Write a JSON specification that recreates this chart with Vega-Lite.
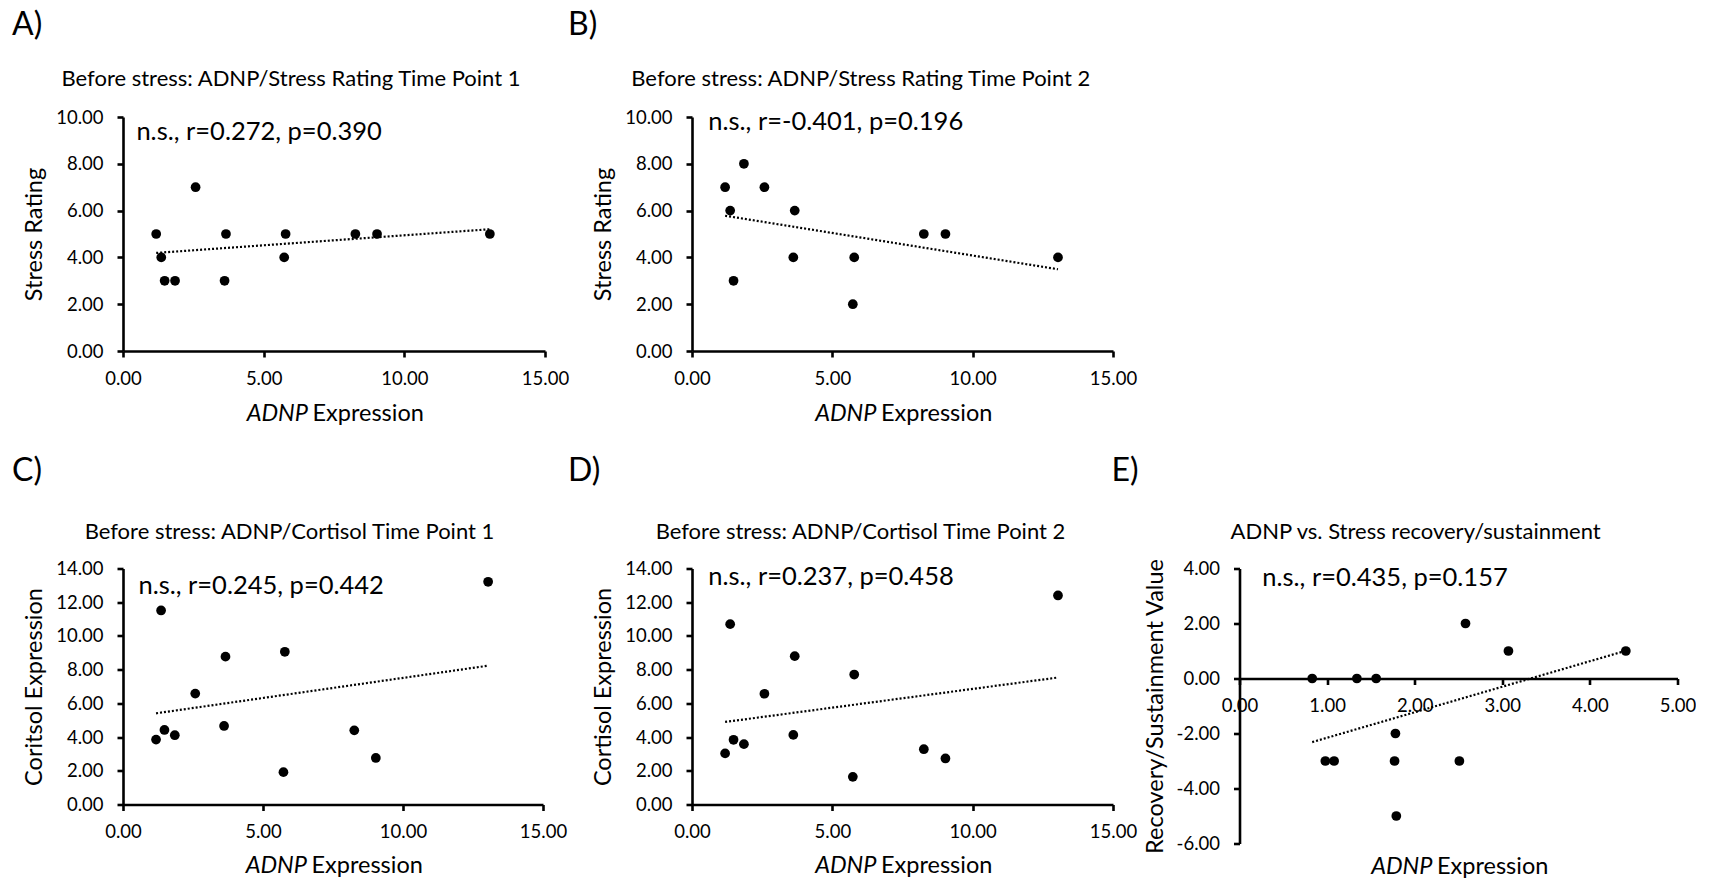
{
  "$schema": "https://vega.github.io/schema/vega-lite/v6.json",
  "background": "white",
  "padding": {"left": 12, "top": 8, "right": 0, "bottom": 0},
  "config": {
    "font": "Lato",
    "locale": {"number": {"decimal": ".", "thousands": ",", "grouping": [3], "currency": ["$", ""], "minus": "-"}},
    "view": {"stroke": null},
    "axis": {"grid": false, "domainColor": "#000", "domainWidth": 2.6, "tickColor": "#000", "tickWidth": 2.6, "tickSize": 6, "labelFontSize": 18.5, "labelColor": "#000", "titleFontSize": 23.5, "titleFontWeight": "normal", "titleColor": "#000", "labelFlush": false, "labelOverlap": false},
    "axisX": {"labelPadding": 12},
    "axisY": {"labelPadding": 14, "titlePadding": 9},
    "title": {"fontSize": 32, "fontWeight": "normal", "color": "#000", "anchor": "start", "frame": "group", "baseline": "alphabetic"}
  },
  "datasets": {
    "stress1": [
      {"adnp": 1.18, "value": 5}, {"adnp": 1.36, "value": 4}, {"adnp": 1.48, "value": 3}, {"adnp": 1.85, "value": 3},
      {"adnp": 2.58, "value": 7}, {"adnp": 3.61, "value": 3}, {"adnp": 3.66, "value": 5}, {"adnp": 5.73, "value": 4},
      {"adnp": 5.78, "value": 5}, {"adnp": 8.26, "value": 5}, {"adnp": 9.03, "value": 5}, {"adnp": 13.04, "value": 5}
    ],
    "stress2": [
      {"adnp": 1.18, "value": 7}, {"adnp": 1.36, "value": 6}, {"adnp": 1.48, "value": 3}, {"adnp": 1.85, "value": 8},
      {"adnp": 2.58, "value": 7}, {"adnp": 3.61, "value": 4}, {"adnp": 3.66, "value": 6}, {"adnp": 5.73, "value": 2},
      {"adnp": 5.78, "value": 4}, {"adnp": 8.26, "value": 5}, {"adnp": 9.03, "value": 5}, {"adnp": 13.04, "value": 4}
    ],
    "cort1": [
      {"adnp": 1.18, "value": 3.85}, {"adnp": 1.36, "value": 11.51}, {"adnp": 1.48, "value": 4.42}, {"adnp": 1.85, "value": 4.11},
      {"adnp": 2.58, "value": 6.58}, {"adnp": 3.61, "value": 4.66}, {"adnp": 3.66, "value": 8.77}, {"adnp": 5.73, "value": 1.92},
      {"adnp": 5.78, "value": 9.06}, {"adnp": 8.26, "value": 4.40}, {"adnp": 9.03, "value": 2.76}, {"adnp": 13.04, "value": 13.21}
    ],
    "cort2": [
      {"adnp": 1.18, "value": 3.03}, {"adnp": 1.36, "value": 10.70}, {"adnp": 1.48, "value": 3.84}, {"adnp": 1.85, "value": 3.58},
      {"adnp": 2.58, "value": 6.57}, {"adnp": 3.61, "value": 4.13}, {"adnp": 3.66, "value": 8.80}, {"adnp": 5.73, "value": 1.64},
      {"adnp": 5.78, "value": 7.71}, {"adnp": 8.26, "value": 3.28}, {"adnp": 9.03, "value": 2.73}, {"adnp": 13.04, "value": 12.40}
    ],
    "recov": [
      {"adnp": 0.83, "value": 0}, {"adnp": 0.98, "value": -3}, {"adnp": 1.08, "value": -3}, {"adnp": 1.34, "value": 0},
      {"adnp": 1.56, "value": 0}, {"adnp": 1.78, "value": -2}, {"adnp": 1.77, "value": -3}, {"adnp": 1.79, "value": -5},
      {"adnp": 2.51, "value": -3}, {"adnp": 2.58, "value": 2}, {"adnp": 3.07, "value": 1}, {"adnp": 4.41, "value": 1}
    ]
  },
  "bounds": "flush",
  "spacing": 451.5,
  "vconcat": [
    {
      "bounds": "flush",
      "spacing": 147,
      "hconcat": [
        {
          "title": {"text": "A)", "dx": -111, "offset": 25.5},
          "width": 422, "height": 234,
          "data": {"name": "stress1"},
          "resolve": {"axis": {"x": "independent"}},
          "layer": [
            {"mark": {"type": "circle", "size": 95, "color": "#000", "opacity": 1},
             "encoding": {
               "x": {"field": "adnp", "type": "quantitative", "scale": {"domain": [0, 15], "nice": false, "zero": false},
                     "axis": {"orient": "bottom", "values": [0, 5, 10, 15], "format": ".2f", "title": "ADNP", "titleFontStyle": "italic", "titleX": 184.5, "titleY": 69, "titleAlign": "right", "titleBaseline": "alphabetic"}},
               "y": {"field": "value", "type": "quantitative", "scale": {"domain": [0, 10], "nice": false, "zero": false},
                     "axis": {"values": [0, 2, 4, 6, 8, 10], "format": ".2f", "title": "Stress Rating"}}}},
            {"transform": [{"regression": "value", "on": "adnp"}],
             "mark": {"type": "line", "color": "#000", "strokeWidth": 2.2, "strokeDash": [2, 2]},
             "encoding": {
               "x": {"field": "adnp", "type": "quantitative", "axis": {"orient": "bottom", "title": "Expression", "labels": false, "ticks": false, "domain": false, "titleX": 189, "titleY": 69, "titleAlign": "left", "titleBaseline": "alphabetic"}},
               "y": {"field": "value", "type": "quantitative", "axis": {"values": [0, 2, 4, 6, 8, 10], "format": ".2f", "title": "Stress Rating"}}}},
            {"data": {"values": [{}]},
             "mark": {"type": "text", "align": "left", "baseline": "middle", "fontSize": 25.5, "color": "#000"},
             "encoding": {
               "x": {"datum": 0.476, "type": "quantitative", "axis": {"orient": "top", "title": "Before stress: ADNP/Stress Rating Time Point 1", "titleFontSize": 22, "labels": false, "ticks": false, "domain": false, "titleX": 167.5, "titleY": -32, "titleAlign": "center", "titleBaseline": "alphabetic"}},
               "y": {"datum": 9.35, "type": "quantitative", "axis": {"values": [0, 2, 4, 6, 8, 10], "format": ".2f", "title": "Stress Rating"}},
               "text": {"value": "n.s., r=0.272, p=0.390"}}}
          ]
        },
        {
          "title": {"text": "B)", "dx": -124, "offset": 25.5},
          "width": 421, "height": 234,
          "data": {"name": "stress2"},
          "resolve": {"axis": {"x": "independent"}},
          "layer": [
            {"mark": {"type": "circle", "size": 95, "color": "#000", "opacity": 1},
             "encoding": {
               "x": {"field": "adnp", "type": "quantitative", "scale": {"domain": [0, 15], "nice": false, "zero": false},
                     "axis": {"orient": "bottom", "values": [0, 5, 10, 15], "format": ".2f", "title": "ADNP", "titleFontStyle": "italic", "titleX": 184, "titleY": 69, "titleAlign": "right", "titleBaseline": "alphabetic"}},
               "y": {"field": "value", "type": "quantitative", "scale": {"domain": [0, 10], "nice": false, "zero": false},
                     "axis": {"values": [0, 2, 4, 6, 8, 10], "format": ".2f", "title": "Stress Rating"}}}},
            {"transform": [{"regression": "value", "on": "adnp"}],
             "mark": {"type": "line", "color": "#000", "strokeWidth": 2.2, "strokeDash": [2, 2]},
             "encoding": {
               "x": {"field": "adnp", "type": "quantitative", "axis": {"orient": "bottom", "title": "Expression", "labels": false, "ticks": false, "domain": false, "titleX": 188.5, "titleY": 69, "titleAlign": "left", "titleBaseline": "alphabetic"}},
               "y": {"field": "value", "type": "quantitative", "axis": {"values": [0, 2, 4, 6, 8, 10], "format": ".2f", "title": "Stress Rating"}}}},
            {"data": {"values": [{}]},
             "mark": {"type": "text", "align": "left", "baseline": "middle", "fontSize": 25.5, "color": "#000"},
             "encoding": {
               "x": {"datum": 0.58, "type": "quantitative", "axis": {"orient": "top", "title": "Before stress: ADNP/Stress Rating Time Point 2", "titleFontSize": 22, "labels": false, "ticks": false, "domain": false, "titleX": 168.3, "titleY": -32, "titleAlign": "center", "titleBaseline": "alphabetic"}},
               "y": {"datum": 9.78, "type": "quantitative", "axis": {"values": [0, 2, 4, 6, 8, 10], "format": ".2f", "title": "Stress Rating"}},
               "text": {"value": "n.s., r=-0.401, p=0.196"}}}
          ]
        }
      ]
    },
    {
      "bounds": "flush",
      "spacing": 1116.5,
      "hconcat": [
        {
          "bounds": "flush",
          "spacing": 149,
          "hconcat": [
            {
              "title": {"text": "C)", "dx": -111, "offset": 33},
              "width": 420, "height": 236,
              "data": {"name": "cort1"},
              "resolve": {"axis": {"x": "independent"}},
              "layer": [
                {"mark": {"type": "circle", "size": 95, "color": "#000", "opacity": 1},
                 "encoding": {
                   "x": {"field": "adnp", "type": "quantitative", "scale": {"domain": [0, 15], "nice": false, "zero": false},
                         "axis": {"orient": "bottom", "values": [0, 5, 10, 15], "format": ".2f", "title": "ADNP", "titleFontStyle": "italic", "titleX": 183.5, "titleY": 68, "titleAlign": "right", "titleBaseline": "alphabetic"}},
                   "y": {"field": "value", "type": "quantitative", "scale": {"domain": [0, 14], "nice": false, "zero": false},
                         "axis": {"values": [0, 2, 4, 6, 8, 10, 12, 14], "format": ".2f", "title": "Coritsol Expression"}}}},
                {"transform": [{"regression": "value", "on": "adnp"}],
                 "mark": {"type": "line", "color": "#000", "strokeWidth": 2.2, "strokeDash": [2, 2]},
                 "encoding": {
                   "x": {"field": "adnp", "type": "quantitative", "axis": {"orient": "bottom", "title": "Expression", "labels": false, "ticks": false, "domain": false, "titleX": 188, "titleY": 68, "titleAlign": "left", "titleBaseline": "alphabetic"}},
                   "y": {"field": "value", "type": "quantitative", "axis": {"values": [0, 2, 4, 6, 8, 10, 12, 14], "format": ".2f", "title": "Coritsol Expression"}}}},
                {"data": {"values": [{}]},
                 "mark": {"type": "text", "align": "left", "baseline": "middle", "fontSize": 25.5, "color": "#000"},
                 "encoding": {
                   "x": {"datum": 0.55, "type": "quantitative", "axis": {"orient": "top", "title": "Before stress: ADNP/Cortisol Time Point 1", "titleFontSize": 22, "labels": false, "ticks": false, "domain": false, "titleX": 166, "titleY": -30, "titleAlign": "center", "titleBaseline": "alphabetic"}},
                   "y": {"datum": 12.99, "type": "quantitative", "axis": {"values": [0, 2, 4, 6, 8, 10, 12, 14], "format": ".2f", "title": "Coritsol Expression"}},
                   "text": {"value": "n.s., r=0.245, p=0.442"}}}
              ]
            },
            {
              "title": {"text": "D)", "dx": -124, "offset": 33},
              "width": 421, "height": 236,
              "data": {"name": "cort2"},
              "resolve": {"axis": {"x": "independent"}},
              "layer": [
                {"mark": {"type": "circle", "size": 95, "color": "#000", "opacity": 1},
                 "encoding": {
                   "x": {"field": "adnp", "type": "quantitative", "scale": {"domain": [0, 15], "nice": false, "zero": false},
                         "axis": {"orient": "bottom", "values": [0, 5, 10, 15], "format": ".2f", "title": "ADNP", "titleFontStyle": "italic", "titleX": 184, "titleY": 68, "titleAlign": "right", "titleBaseline": "alphabetic"}},
                   "y": {"field": "value", "type": "quantitative", "scale": {"domain": [0, 14], "nice": false, "zero": false},
                         "axis": {"values": [0, 2, 4, 6, 8, 10, 12, 14], "format": ".2f", "title": "Cortisol Expression"}}}},
                {"transform": [{"regression": "value", "on": "adnp"}],
                 "mark": {"type": "line", "color": "#000", "strokeWidth": 2.2, "strokeDash": [2, 2]},
                 "encoding": {
                   "x": {"field": "adnp", "type": "quantitative", "axis": {"orient": "bottom", "title": "Expression", "labels": false, "ticks": false, "domain": false, "titleX": 188.5, "titleY": 68, "titleAlign": "left", "titleBaseline": "alphabetic"}},
                   "y": {"field": "value", "type": "quantitative", "axis": {"values": [0, 2, 4, 6, 8, 10, 12, 14], "format": ".2f", "title": "Cortisol Expression"}}}},
                {"data": {"values": [{}]},
                 "mark": {"type": "text", "align": "left", "baseline": "middle", "fontSize": 25.5, "color": "#000"},
                 "encoding": {
                   "x": {"datum": 0.58, "type": "quantitative", "axis": {"orient": "top", "title": "Before stress: ADNP/Cortisol Time Point 2", "titleFontSize": 22, "labels": false, "ticks": false, "domain": false, "titleX": 168, "titleY": -30, "titleAlign": "center", "titleBaseline": "alphabetic"}},
                   "y": {"datum": 13.48, "type": "quantitative", "axis": {"values": [0, 2, 4, 6, 8, 10, 12, 14], "format": ".2f", "title": "Cortisol Expression"}},
                   "text": {"value": "n.s., r=0.237, p=0.458"}}}
              ]
            }
          ]
        },
        {
          "title": {"text": "E)", "dx": -128, "offset": 33},
          "width": 438, "height": 275,
          "data": {"name": "recov"},
          "resolve": {"axis": {"x": "independent"}},
          "layer": [
            {"mark": {"type": "circle", "size": 95, "color": "#000", "opacity": 1},
             "encoding": {
               "x": {"field": "adnp", "type": "quantitative", "scale": {"domain": [0, 5], "nice": false, "zero": false},
                     "axis": {"orient": "bottom", "offset": -165, "values": [0, 1, 2, 3, 4, 5], "format": ".2f", "title": null}},
               "y": {"field": "value", "type": "quantitative", "scale": {"domain": [-6, 4], "nice": false, "zero": false},
                     "axis": {"values": [-6, -4, -2, 0, 2, 4], "format": ".2f", "title": "Recovery/Sustainment Value"}}}},
            {"transform": [{"regression": "value", "on": "adnp"}],
             "mark": {"type": "line", "color": "#000", "strokeWidth": 2.2, "strokeDash": [2, 2]},
             "encoding": {
               "x": {"field": "adnp", "type": "quantitative", "axis": {"orient": "bottom", "title": "ADNP", "titleFontStyle": "italic", "labels": false, "ticks": false, "domain": false, "titleX": 192.5, "titleY": 30, "titleAlign": "right", "titleBaseline": "alphabetic"}},
               "y": {"field": "value", "type": "quantitative", "axis": {"values": [-6, -4, -2, 0, 2, 4], "format": ".2f", "title": "Recovery/Sustainment Value"}}}},
            {"data": {"values": [{}]},
             "mark": {"type": "text", "align": "left", "baseline": "middle", "fontSize": 25.5, "color": "#000"},
             "encoding": {
               "x": {"datum": 0.26, "type": "quantitative", "axis": {"orient": "top", "title": "ADNP vs. Stress recovery/sustainment", "titleFontSize": 22, "labels": false, "ticks": false, "domain": false, "titleX": 175.6, "titleY": -30, "titleAlign": "center", "titleBaseline": "alphabetic"}},
               "y": {"datum": 3.64, "type": "quantitative", "axis": {"values": [-6, -4, -2, 0, 2, 4], "format": ".2f", "title": "Recovery/Sustainment Value"}},
               "text": {"value": "n.s., r=0.435, p=0.157"}}},
            {"data": {"values": [{}]},
             "mark": {"type": "text", "text": ""},
             "encoding": {
               "x": {"datum": 0, "type": "quantitative", "axis": {"orient": "bottom", "title": "Expression", "labels": false, "ticks": false, "domain": false, "titleX": 197, "titleY": 30, "titleAlign": "left", "titleBaseline": "alphabetic"}},
               "y": {"datum": 0, "type": "quantitative", "axis": {"values": [-6, -4, -2, 0, 2, 4], "format": ".2f", "title": "Recovery/Sustainment Value"}}}}
          ]
        }
      ]
    }
  ]
}
